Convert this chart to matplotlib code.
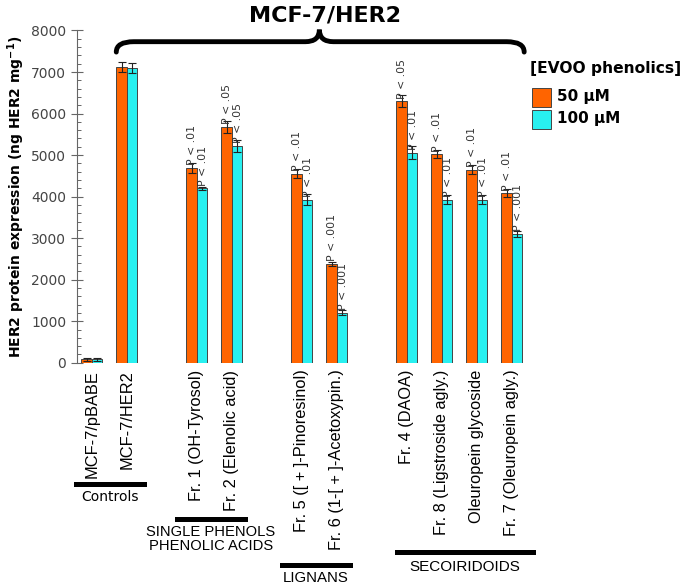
import numpy as np
import matplotlib
matplotlib.use("Agg")
import matplotlib.pyplot as plt
from matplotlib.patches import Rectangle, PathPatch
from matplotlib.path import Path
from matplotlib.ticker import MultipleLocator

labels = ["MCF-7/pBABE", "MCF-7/HER2", "Fr. 1 (OH-Tyrosol)", "Fr. 2 (Elenolic acid)",
          "Fr. 5 ([ + ]-Pinoresinol)", "Fr. 6 (1-[ + ]-Acetoxypin.)", "Fr. 4 (DAOA)",
          "Fr. 8 (Ligstroside agly.)", "Oleuropein glycoside", "Fr. 7 (Oleuropein agly.)"]
positions = [0, 1, 3, 4, 6, 7, 9, 10, 11, 12]
val_50 = [80, 7120, 4700, 5680, 4550, 2380, 6300, 5020, 4650, 4080]
err_50 = [30, 110, 120, 150, 110, 50, 150, 100, 100, 100]
val_100 = [80, 7100, 4200, 5220, 3930, 1200, 5060, 3930, 3920, 3100]
err_100 = [30, 120, 40, 150, 140, 60, 150, 110, 110, 70]
p_50 = [None, None, ".01", ".05", ".01", ".001", ".05", ".01", ".01", ".01"]
p_100 = [None, None, ".01", ".05", ".01", ".001", ".01", ".01", ".01", ".001"]

orange = "#ff6400"
cyan = "#28f0f0"
w = 0.3

fig = plt.figure(figsize=(6.85, 5.86), dpi=100)
ax = fig.add_axes([0.112, 0.381, 0.85, 0.567])

x = np.array(positions)
ekw = dict(ecolor="#222222", elinewidth=0.8, capsize=3, capthick=0.8)
ax.bar(x - w / 2, val_50, w, color=orange, edgecolor="#444444", linewidth=0.7,
       yerr=err_50, error_kw=ekw)
ax.bar(x + w / 2, val_100, w, color=cyan, edgecolor="#444444", linewidth=0.7,
       yerr=err_100, error_kw=ekw)

for xs, vals, ps in [(x - w / 2, val_50, p_50), (x + w / 2, val_100, p_100)]:
    for xi, v, p in zip(xs, vals, ps):
        if p:
            ax.text(xi + 0.02, v + 60, "P < " + p, rotation=90, ha="center", va="bottom",
                    fontsize=7.8, color="#333333")

ax.set_xlim(-0.43, 16.2)
ax.set_ylim(0, 8000)
ax.yaxis.set_major_locator(MultipleLocator(1000))
ax.yaxis.set_minor_locator(MultipleLocator(200))
ax.tick_params(axis="y", which="major", direction="inout", length=8, width=0.8,
               color="#666666", labelsize=10, labelcolor="#444444")
ax.tick_params(axis="y", which="minor", direction="in", length=3, width=0.7, color="#666666")
for s in ["top", "right", "bottom"]:
    ax.spines[s].set_visible(False)
ax.spines["left"].set_color("#666666")
ax.set_xticks(positions)
ax.set_xticklabels(labels, rotation=90, fontsize=11.8, family="Liberation Sans")
ax.tick_params(axis="x", length=0, pad=5)
ax.set_ylabel("HER2 protein expression (ng HER2 mg$^{\\mathbf{-1}}$)", fontsize=10,
              fontweight="bold", labelpad=3)

# curly brace over the MCF-7/HER2 groups
x0, x1, xm = 0.7, 12.35, 6.5
yb, yh, yt = 7480, 7730, 8020
codes = [Path.MOVETO, Path.CURVE3, Path.CURVE3, Path.LINETO,
         Path.CURVE3, Path.CURVE3, Path.LINETO, Path.LINETO, Path.CURVE3, Path.CURVE3,
         Path.LINETO, Path.CURVE3, Path.CURVE3]
verts = [(x0, yb), (x0, yh), (x0 + 0.5, yh), (xm - 0.4, yh),
         (xm, yh), (xm, yt), (xm, yt), (xm, yt), (xm, yh), (xm + 0.4, yh),
         (x1 - 0.5, yh), (x1, yh), (x1, yb)]
brace = PathPatch(Path(verts, codes), fill=False, lw=3.5, color="black", clip_on=False,
                  capstyle="round")
ax.add_patch(brace)
fig.text(0.475, 0.973, "MCF-7/HER2", ha="center", va="center", fontsize=16, fontweight="bold")

# legend
fig.text(0.774, 0.883, "[EVOO phenolics]", ha="left", va="center", fontsize=11.2, fontweight="bold")
fig.patches.append(Rectangle((0.777, 0.818), 0.027, 0.032, transform=fig.transFigure,
                             facecolor=orange, edgecolor="#444444", lw=0.7))
fig.patches.append(Rectangle((0.777, 0.780), 0.027, 0.032, transform=fig.transFigure,
                             facecolor=cyan, edgecolor="#444444", lw=0.7))
fig.text(0.813, 0.835, "50 \u03bcM", ha="left", va="center", fontsize=11, fontweight="bold")
fig.text(0.813, 0.797, "100 \u03bcM", ha="left", va="center", fontsize=11, fontweight="bold")

# group bars below labels
H = 586.0
W = 685.0
groups = [(76, 144, 484, "Controls", 497, "DejaVu Sans", 10),
          (177, 245, 519, "SINGLE PHENOLS\nPHENOLIC ACIDS", 539, "Liberation Sans", 10.6),
          (282, 350, 565, "LIGNANS", 578, "Liberation Sans", 10.8),
          (397, 533, 552, "SECOIRIDOIDS", 567, "Liberation Sans", 11)]
for gx0, gx1, gy, name, ty, fam, fs in groups:
    fig.add_artist(plt.Line2D([gx0 / W, gx1 / W], [1 - gy / H, 1 - gy / H], color="black",
                              lw=3.6, transform=fig.transFigure))
    fig.text((gx0 + gx1) / 2 / W, 1 - ty / H, name, ha="center", va="center",
             fontsize=fs, family=fam, linespacing=1.0)

fig.savefig("out.png", dpi=100)
